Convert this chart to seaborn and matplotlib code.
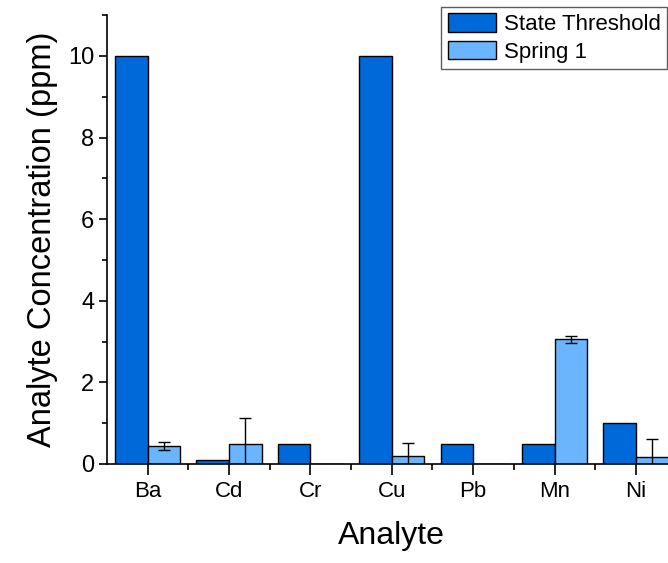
import pandas as pd
import numpy as np
import matplotlib
matplotlib.use("Agg")
import matplotlib.pyplot as plt
import seaborn as sns
from matplotlib.ticker import MultipleLocator, FixedLocator

# ── Data ────────────────────────────────────────────
analytes = ["Ba", "Cd", "Cr", "Cu", "Pb", "Mn", "Ni"]
state_threshold = [10, 0.1, 0.5, 10, 0.5, 0.5, 1.0]
spring1 = [0.44, 0.49, 0.0, 0.20, 0.0, 3.05, 0.17]
spring1_err = [0.10, 0.64, 0.0, 0.31, 0.0, 0.09, 0.44]
series_names = ["State Threshold", "Spring 1"]

dark_blue = "#0069DA"
light_blue = "#6BB5FF"

df = pd.DataFrame({
    "Analyte": analytes * 2,
    "Concentration": state_threshold + spring1,
    "Series": [series_names[0]] * len(analytes) + [series_names[1]] * len(analytes),
})

sns.set_style("ticks")
plt.rcParams["font.family"] = ["Liberation Sans", "DejaVu Sans"]
for k in ["text.color", "axes.labelcolor", "xtick.color", "ytick.color"]:
    plt.rcParams[k] = "black"

fig = plt.figure(figsize=(6.68, 5.63), dpi=100)
ax = fig.add_axes([0.160, 0.176, 0.853, 0.797])

sns.barplot(data=df, x="Analyte", y="Concentration", hue="Series",
            palette=[dark_blue, light_blue], saturation=1, width=0.8,
            edgecolor="black", linewidth=1, errorbar=None, ax=ax)

# error bars on Spring 1 bars
for patch, err in zip(ax.containers[1], spring1_err):
    if err <= 0:
        continue
    xc = patch.get_x() + patch.get_width() / 2
    ax.errorbar(xc, patch.get_height(), yerr=err, fmt="none",
                ecolor="black", elinewidth=1, capsize=4, capthick=1)

ax.set_xlim(-0.5, 6.5)
ax.set_ylim(0, 11)
ax.yaxis.set_major_locator(MultipleLocator(2))
ax.yaxis.set_minor_locator(MultipleLocator(1))
ax.xaxis.set_minor_locator(FixedLocator(np.arange(0.5, 6.6, 1.0)))

sns.despine(ax=ax)
for s in ["left", "bottom"]:
    ax.spines[s].set_linewidth(1.2)
    ax.spines[s].set_color("black")

ax.tick_params(axis="y", which="major", direction="out", length=6, width=1.2,
               labelsize=17, pad=3)
ax.tick_params(axis="y", which="minor", direction="out", length=3.5, width=1.2)
ax.tick_params(axis="x", which="major", direction="out", length=8, width=1.2,
               labelsize=16, pad=4)
ax.tick_params(axis="x", which="minor", direction="out", length=4, width=1.2)

ax.set_xlabel("Analyte", fontsize=23, labelpad=14)
ax.set_ylabel("Analyte Concentration (ppm)", fontsize=23.5, labelpad=7)

leg = ax.legend(loc="upper right", bbox_to_anchor=(0.999, 0.988),
                bbox_transform=fig.transFigure, frameon=True, fancybox=False,
                edgecolor="#333333", fontsize=16, handlelength=2.2,
                handleheight=0.9, labelspacing=0.25, borderpad=0.3,
                borderaxespad=0, handletextpad=0.33)
leg.get_frame().set_linewidth(1)
for h in leg.legend_handles:
    h.set_edgecolor("black")
    h.set_linewidth(1)

fig.savefig("out.png", dpi=100)
